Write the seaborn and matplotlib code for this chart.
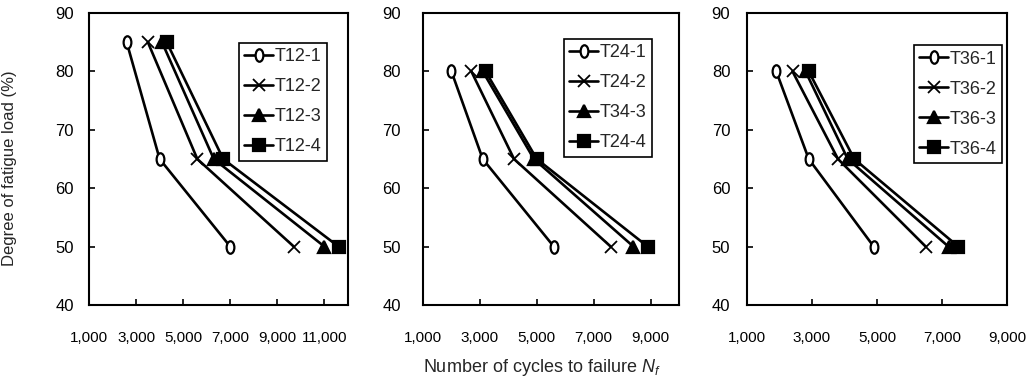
import numpy as np
import pandas as pd
import matplotlib
matplotlib.use("Agg")
import matplotlib.pyplot as plt
import seaborn as sns
from matplotlib.path import Path
from matplotlib.transforms import Affine2D
from matplotlib.ticker import FuncFormatter

# ---------------- data ----------------
load_levels_1 = [85, 65, 50]
load_levels_23 = [80, 65, 50]

labels_12 = ["T12-1", "T12-2", "T12-3", "T12-4"]
cycles_12 = [
    [2600, 4000, 7000],
    [3500, 5600, 9700],
    [4100, 6300, 11000],
    [4300, 6700, 11600],
]

labels_24 = ["T24-1", "T24-2", "T34-3", "T24-4"]
cycles_24 = [
    [2000, 3100, 5600],
    [2700, 4200, 7600],
    [3100, 4900, 8400],
    [3200, 5000, 8900],
]

labels_36 = ["T36-1", "T36-2", "T36-3", "T36-4"]
cycles_36 = [
    [1900, 2900, 4900],
    [2400, 3800, 6500],
    [2800, 4100, 7200],
    [2900, 4300, 7500],
]

x_ticks_1 = [1000, 3000, 5000, 7000, 9000, 11000]
x_ticks_23 = [1000, 3000, 5000, 7000, 9000]
y_ticks = [40, 50, 60, 70, 80, 90]

# ---------------- style ----------------
sns.set_style("ticks")
plt.rcParams["font.family"] = ["Liberation Sans", "DejaVu Sans"]
plt.rcParams["axes.linewidth"] = 1.5
plt.rcParams["mathtext.fontset"] = "custom"
plt.rcParams["mathtext.it"] = "Liberation Sans:italic"

ellipse = Path.unit_circle().transformed(Affine2D().scale(0.62, 1.0))
markers = [ellipse, "x", "^", "s"]
msizes = [9, 8, 9, 8.5]
mews = [1.6, 1.3, 1.6, 1.6]
faces = ["white", "black", "black", "black"]

fig = plt.figure(figsize=(10.35, 3.87), dpi=100)
W, H = 1035, 387

panels = [
    dict(left=89, right=348, xlim=(1000, 12000), xticks=x_ticks_1,
         labels=labels_12, cycles=cycles_12, loads=load_levels_1,
         leg=(0.919, 0.897), ypad=11),
    dict(left=423, right=679, xlim=(1000, 10000), xticks=x_ticks_23,
         labels=labels_24, cycles=cycles_24, loads=load_levels_23,
         leg=(0.895, 0.911), ypad=16),
    dict(left=747, right=1007, xlim=(1000, 9000), xticks=x_ticks_23,
         labels=labels_36, cycles=cycles_36, loads=load_levels_23,
         leg=(0.981, 0.89), ypad=12),
]
top, bottom = 13, 305

fmt = FuncFormatter(lambda v, p: f"{int(v):,}")

axes = []
for i, pnl in enumerate(panels):
    ax = fig.add_axes([pnl["left"] / W, 1 - bottom / H,
                       (pnl["right"] - pnl["left"]) / W, (bottom - top) / H])
    axes.append(ax)
    for k, (lab, xs) in enumerate(zip(pnl["labels"], pnl["cycles"])):
        df = pd.DataFrame({"cycles": xs, "load": pnl["loads"]})
        sns.lineplot(data=df, x="cycles", y="load", ax=ax, color="black",
                     linewidth=1.9, marker=markers[k], markersize=msizes[k],
                     markerfacecolor=faces[k], markeredgecolor="black",
                     markeredgewidth=mews[k], label=lab, sort=False,
                     estimator=None)
    ax.set_xlim(*pnl["xlim"])
    ax.set_ylim(40, 90)
    ax.set_xticks(pnl["xticks"])
    ax.set_yticks(y_ticks)
    ax.xaxis.set_major_formatter(fmt)
    ax.tick_params(axis="both", direction="in", length=4, width=1.2,
                   colors="black")
    ax.tick_params(axis="x", pad=19, labelsize=11)
    ax.tick_params(axis="y", pad=pnl["ypad"], labelsize=12)
    ax.set_xlabel("")
    ax.set_ylabel("")
    for sp in ax.spines.values():
        sp.set_visible(True)
        sp.set_color("black")
    leg = ax.legend(loc="upper right", bbox_to_anchor=pnl["leg"],
                    borderaxespad=0, frameon=True, fancybox=False,
                    fontsize=13, handlelength=1.6, handletextpad=0.1,
                    labelspacing=0.72, borderpad=0.3, edgecolor="black")
    leg.get_frame().set_linewidth(1.2)
    leg.get_frame().set_alpha(1)
    for ln in leg.get_lines():
        ln.set_linewidth(1.9)

axes[0].set_ylabel("Degree of fatigue load (%)", fontsize=12)
axes[0].yaxis.set_label_coords((17 - 89) / 259, 0.47)

fig.text(542 / W, 1 - 368 / H, "Number of cycles to failure $N_f$",
         ha="center", va="center", fontsize=13)

fig.savefig("out.png", dpi=100, facecolor="white")
